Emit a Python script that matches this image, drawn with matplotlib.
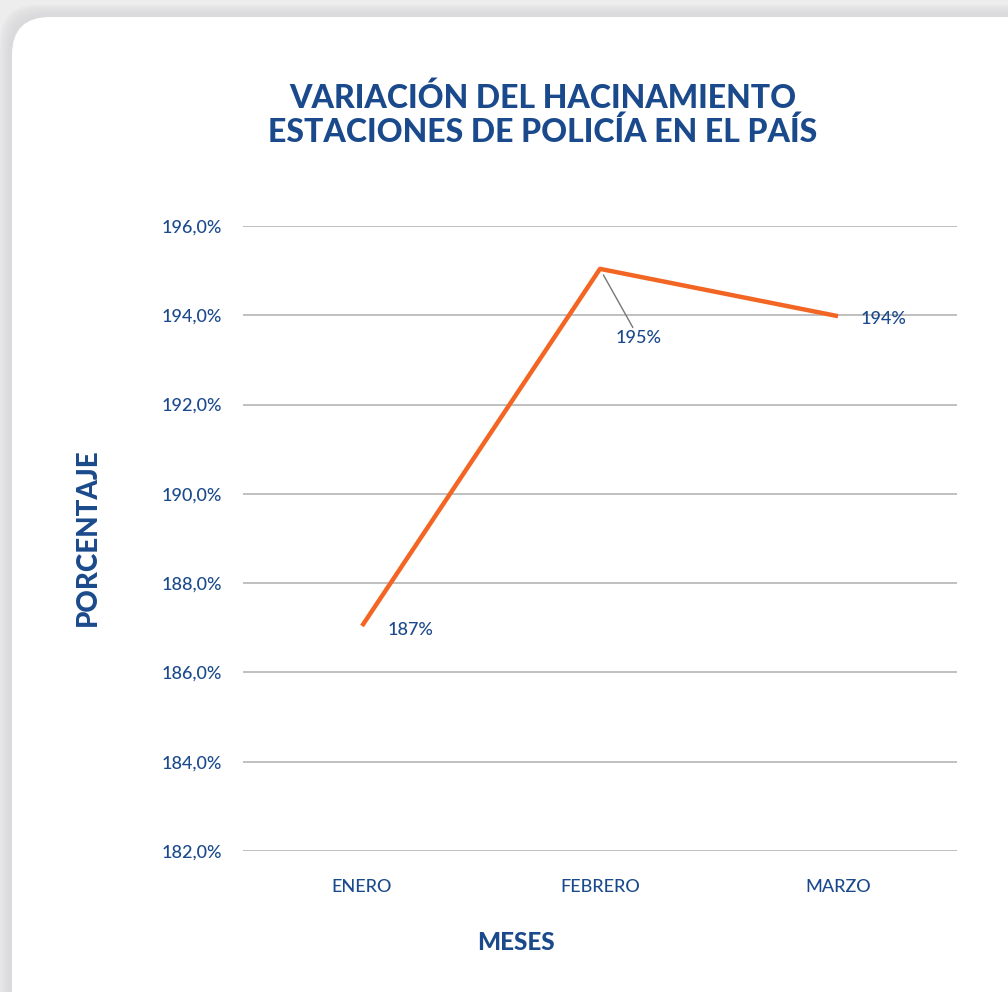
import matplotlib.pyplot as plt
from matplotlib.patches import FancyBboxPatch
import numpy as np

months = ["ENERO", "FEBRERO", "MARZO"]
values = [187.04, 195.04, 193.98]
value_labels = ["187%", "195%", "194%"]
yticks = [182, 184, 186, 188, 190, 192, 194, 196]

BLUE = "#1b4a8c"
ORANGE = "#f26522"
GRID = "#b5b5b5"

plt.rcParams['font.family'] = ['Lato', 'DejaVu Sans']

W, H = 1008, 992
fig = plt.figure(figsize=(W/100, H/100), dpi=100)
fig.patch.set_facecolor("#ededee")

# card shadow layers
for i in range(6):
    off = (6 - i) * 2
    sh = FancyBboxPatch((12/W - off/W, -40/H), (W + 60)/W, (H + 40 - 17 + off)/H,
                        boxstyle=f"round,pad=0,rounding_size={38/W}",
                        transform=fig.transFigure, facecolor="#d8d8da", edgecolor="none",
                        alpha=0.25, zorder=0, mutation_aspect=W/H)
    fig.patches.append(sh)
card = FancyBboxPatch((12/W, -40/H), (W + 60)/W, (H + 40 - 17)/H,
                      boxstyle=f"round,pad=0,rounding_size={38/W}",
                      transform=fig.transFigure, facecolor="white", edgecolor="none",
                      zorder=1, mutation_aspect=W/H)
fig.patches.append(card)

ax = fig.add_axes([243/W, 1 - 851/H, (957-243)/W, (851-226)/H])
ax.set_facecolor("none")
ax.set_zorder(2)

x = np.arange(len(months))
ax.plot(x, values, color=ORANGE, lw=3.2, solid_capstyle="butt", zorder=3)

ax.set_xlim(-0.5, 2.5)
ax.set_ylim(182, 196)
ax.set_yticks(yticks)
ax.set_yticklabels([f"{v:.1f}%".replace(".", ",") for v in yticks])
ax.set_xticks(x)
ax.set_xticklabels(months)
ax.yaxis.grid(True, color=GRID, lw=1.2)
ax.set_axisbelow(True)
for s in ax.spines.values():
    s.set_visible(False)
ax.tick_params(axis="both", length=0, labelsize=13, labelcolor=BLUE)
for lab in ax.get_xticklabels() + ax.get_yticklabels():
    lab.set_fontweight("medium")
ax.tick_params(axis="y", pad=15)
ax.tick_params(axis="x", pad=20)

# data labels
lab_kw = dict(color=BLUE, fontsize=13, fontweight="medium", ha="center", va="center",
              textcoords="offset points")
ax.annotate(value_labels[0], (x[0], values[0]), xytext=(35, -3), **lab_kw)
ax.annotate(value_labels[1], (x[1], values[1]), xytext=(28, -50),
            arrowprops=dict(arrowstyle="-", color="#777777", lw=1.0, shrinkA=0, shrinkB=5),
            **lab_kw)
ax.annotate(value_labels[2], (x[2], values[2]), xytext=(33, -2), **lab_kw)

fig.text(543/W, 1 - 115/H, "VARIACIÓN DEL HACINAMIENTO\nESTACIONES DE POLICÍA EN EL PAÍS",
         ha="center", va="center", color=BLUE, fontsize=23, fontweight="black",
         linespacing=1.15, zorder=5)
fig.text(88/W, 1 - 537/H, "PORCENTAJE", rotation=90, ha="center", va="center",
         color=BLUE, fontsize=20, fontweight="black", zorder=5)
fig.text(516/W, 1 - 942/H, "MESES", ha="center", va="center",
         color=BLUE, fontsize=17.5, fontweight="black", zorder=5)

fig.savefig("out.png", dpi=100)
